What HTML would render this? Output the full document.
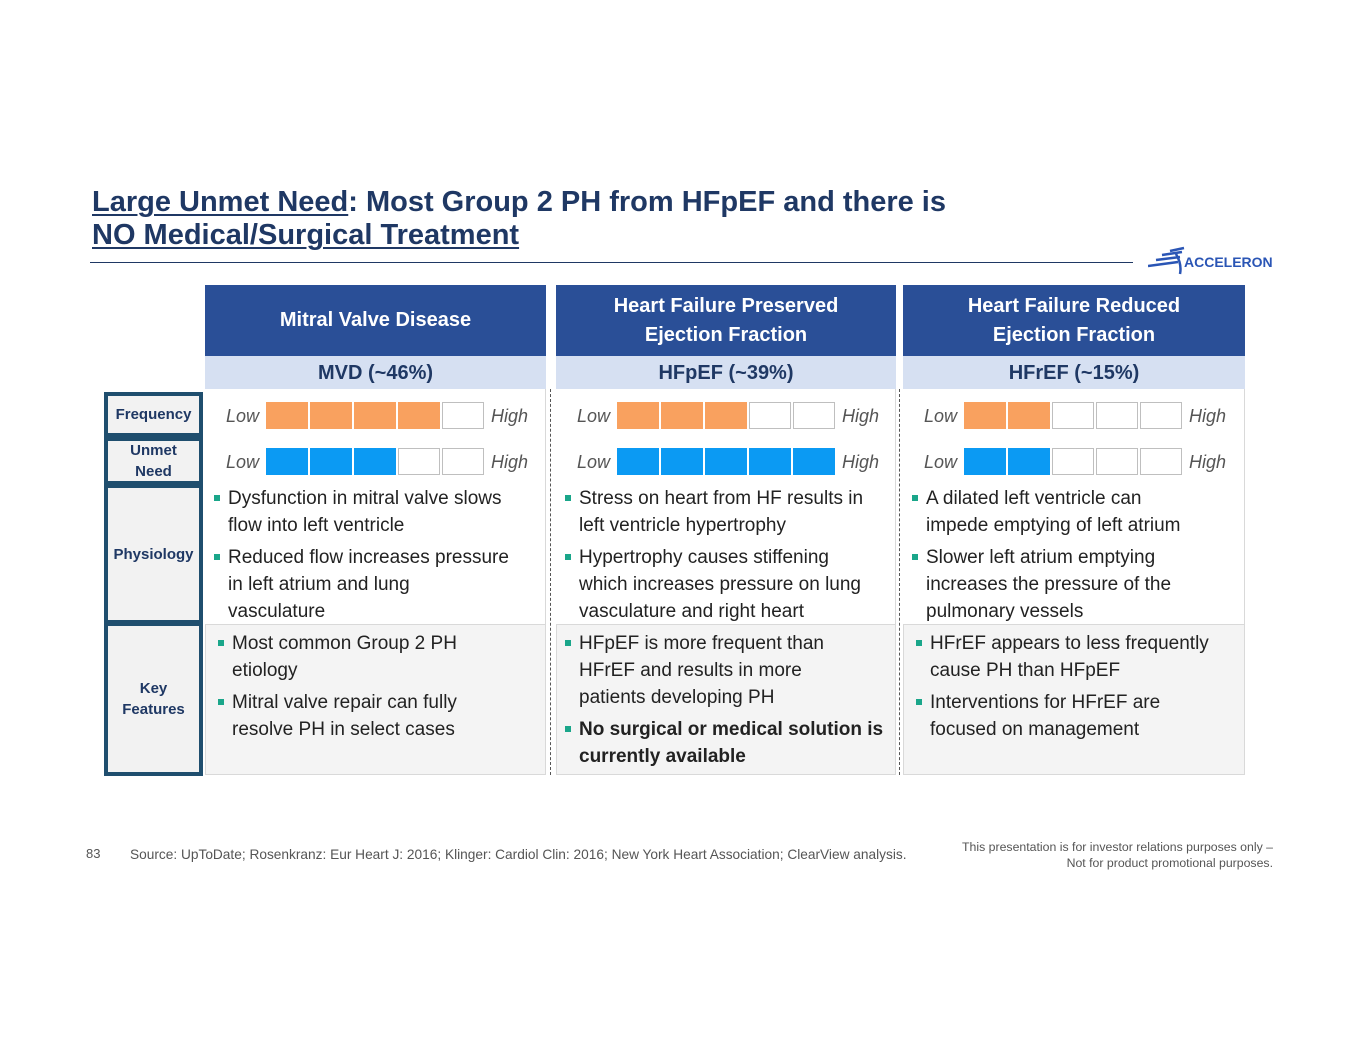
<!DOCTYPE html>
<html><head><meta charset="utf-8">
<style>
*{margin:0;padding:0;box-sizing:border-box}
body{width:1365px;height:1055px;background:#fff;position:relative;overflow:hidden;font-family:"Liberation Sans",sans-serif}
.abs{position:absolute}
.title{left:92px;top:186px;font-size:29px;font-weight:bold;color:#1f3864;line-height:33px;white-space:nowrap}
.title u{text-decoration-thickness:2px;text-underline-offset:3px}
.hdr{background:#2a4f97;color:#fff;font-weight:bold;font-size:20px;text-align:center;display:flex;align-items:center;justify-content:center;line-height:29px;top:285px;height:71px}
.sub{background:#d6e0f2;color:#1f3864;font-weight:bold;font-size:20px;text-align:center;top:356px;height:33px;line-height:35px}
.body{top:389px;height:235px;background:#fff;border-right:1px solid #d9d9d9}
.kf{top:624px;height:151px;background:#f4f4f4;border:1px solid #d9d9d9}
.lbl{left:104px;width:99px;background:#f2f2f2;border:4px solid #1f4e6e;color:#1f3864;font-weight:bold;font-size:15px;text-align:center;display:flex;align-items:center;justify-content:center;line-height:21px}
.lh{font-style:italic;color:#555;font-size:18px;line-height:20px}
.box{width:42px;height:27px;border:1px solid #bfbfbf;background:#fff}
.txt{font-size:19px;color:#222;line-height:27px;white-space:nowrap}
.txt p{position:relative;margin-bottom:5px}
.txt p:before{content:"";position:absolute;left:-14px;top:10px;width:6px;height:6px;background:#1aa68a}
.dash{width:0;border-left:1px dashed #555;top:389px;height:386px}
</style></head><body>
<div class="abs title"><u>Large Unmet Need</u>: Most Group 2 PH from HFpEF and there is<br><u>NO Medical/Surgical Treatment</u></div>
<div class="abs" style="left:90px;top:262px;width:1043px;height:1px;background:#1f3864"></div>
<div class="abs" style="left:1148px;top:246px;width:130px;height:30px">
<svg width="40" height="30" style="position:absolute;left:0;top:0"><path d="M0 20 L30 16 M8 14 L32 11 M14 9 L34 6 M22 5 L36 2 M28 8 Q34 18 32 28" stroke="#2a55b5" stroke-width="2.5" fill="none"/></svg>
<span style="position:absolute;left:36px;top:8px;font-size:14px;font-weight:bold;color:#2a55b5">ACCELERON</span></div>

<div class="abs hdr" style="left:205px;width:341px">Mitral Valve Disease</div>
<div class="abs hdr" style="left:556px;width:340px">Heart Failure Preserved<br>Ejection Fraction</div>
<div class="abs hdr" style="left:903px;width:342px">Heart Failure Reduced<br>Ejection Fraction</div>
<div class="abs sub" style="left:205px;width:341px">MVD (~46%)</div>
<div class="abs sub" style="left:556px;width:340px">HFpEF (~39%)</div>
<div class="abs sub" style="left:903px;width:342px">HFrEF (~15%)</div>

<div class="abs body" style="left:205px;width:341px"></div>
<div class="abs body" style="left:556px;width:340px"></div>
<div class="abs body" style="left:903px;width:342px"></div>
<div class="abs kf" style="left:205px;width:341px"></div>
<div class="abs kf" style="left:556px;width:340px"></div>
<div class="abs kf" style="left:903px;width:342px"></div>
<div class="abs dash" style="left:550px"></div>
<div class="abs dash" style="left:899px"></div>

<div class="abs lbl" style="top:392px;height:45px">Frequency</div>
<div class="abs lbl" style="top:437px;height:48px">Unmet<br>Need</div>
<div class="abs lbl" style="top:484px;height:140px">Physiology</div>
<div class="abs lbl" style="top:622px;height:154px">Key<br>Features</div>

<div id="ratings"></div>

<div class="abs txt" style="left:228px;top:485px">
<p>Dysfunction in mitral valve slows<br>flow into left ventricle</p><p>Reduced flow increases pressure<br>in left atrium and lung<br>vasculature</p></div>
<div class="abs txt" style="left:579px;top:485px">
<p>Stress on heart from HF results in<br>left ventricle hypertrophy</p><p>Hypertrophy causes stiffening<br>which increases pressure on lung<br>vasculature and right heart</p></div>
<div class="abs txt" style="left:926px;top:485px">
<p>A dilated left ventricle can<br>impede emptying of left atrium</p><p>Slower left atrium emptying<br>increases the pressure of the<br>pulmonary vessels</p></div>
<div class="abs txt" style="left:232px;top:630px">
<p>Most common Group 2 PH<br>etiology</p><p>Mitral valve repair can fully<br>resolve PH in select cases</p></div>
<div class="abs txt" style="left:579px;top:630px">
<p>HFpEF is more frequent than<br>HFrEF and results in more<br>patients developing PH</p><p style="font-weight:bold">No surgical or medical solution is<br>currently available</p></div>
<div class="abs txt" style="left:930px;top:630px">
<p>HFrEF appears to less frequently<br>cause PH than HFpEF</p><p>Interventions for HFrEF are<br>focused on management</p></div>

<div class="abs" style="left:86px;top:846px;font-size:13px;color:#555">83</div>
<div class="abs" style="left:130px;top:847px;font-size:13.7px;color:#555;white-space:nowrap">Source: UpToDate; Rosenkranz: Eur Heart J: 2016; Klinger: Cardiol Clin: 2016; New York Heart Association; ClearView analysis.</div>
<div class="abs" style="right:92px;top:839px;font-size:12.3px;color:#555;text-align:right;line-height:16px;white-space:nowrap">This presentation is for investor relations purposes only –<br>Not for product promotional purposes.</div>

<script>
const conditions=["MVD","HFpEF","HFrEF"];
const frequency=[4,3,2];
const unmetNeed=[3,5,2];
const maxLevel=5;
const colX=[266,617,964];
const rows=[{vals:frequency,y:402,color:"#f9a15f",name:"frequency"},{vals:unmetNeed,y:448,color:"#0b9af3",name:"unmet-need"}];
const root=document.getElementById('ratings');
rows.forEach(r=>{
  conditions.forEach((c,i)=>{
    const lo=document.createElement('div');
    lo.className='abs lh';lo.textContent='Low';
    lo.style.left=(colX[i]-40)+'px';lo.style.top=(r.y+4)+'px';
    
    
    root.appendChild(lo);
    for(let k=0;k<maxLevel;k++){
      const b=document.createElement('div');
      b.className='abs box';
      b.style.left=(colX[i]+k*44)+'px';b.style.top=r.y+'px';
      if(k<r.vals[i]){b.style.background=r.color;b.style.borderColor=r.color;}
      
      
      root.appendChild(b);
    }
    const hi=document.createElement('div');
    hi.className='abs lh';hi.textContent='High';
    hi.style.left=(colX[i]+225)+'px';hi.style.top=(r.y+4)+'px';
    
    
    root.appendChild(hi);
  });
});
</script>
</body></html>
